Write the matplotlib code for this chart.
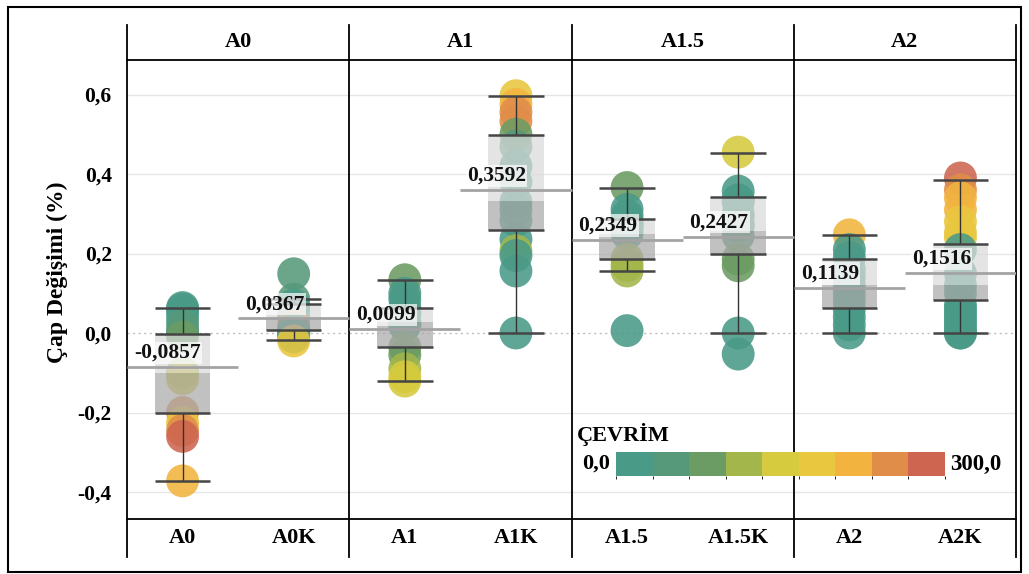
import numpy as np
import matplotlib
matplotlib.use("Agg")
import matplotlib.pyplot as plt
from matplotlib.colors import ListedColormap, BoundaryNorm
from matplotlib.cm import ScalarMappable
from matplotlib.patches import Rectangle
import matplotlib.transforms as mtransforms

plt.rcParams['font.family'] = ['Liberation Serif', 'DejaVu Serif']
plt.rcParams['font.weight'] = 'bold'

# ---- data -------------------------------------------------------------
groups = ['A0', 'A1', 'A1.5', 'A2']
categories = ['A0', 'A0K', 'A1', 'A1K', 'A1.5', 'A1.5K', 'A2', 'A2K']

# diameter change (%) per specimen and the cycle count it was measured at
a0_vals = [0.064, 0.06, 0.05, 0.035, 0.02, 0.005, 0.0, -0.01, -0.10, -0.115,
           -0.20, -0.225, -0.245, -0.26, -0.372]
a0_cyc = [0, 25, 0, 10, 50, 40, 60, 90, 110, 140, 250, 180, 240, 280, 200]

a0k_vals = [0.149, 0.085, 0.07, 0.06, 0.04, 0.02, 0.01, 0.0, 0.0, -0.01, -0.02]
a0k_cyc = [50, 40, 10, 0, 20, 250, 30, 0, 10, 5, 180]

a1_vals = [0.134, 0.10, 0.085, 0.064, 0.05, 0.05, 0.027, 0.02, 0.02, -0.036,
           -0.055, -0.09, -0.11, -0.121]
a1_cyc = [75, 25, 0, 0, 50, 25, 0, 50, 0, 75, 90, 110, 150, 140]

a1k_vals = [0.597, 0.575, 0.555, 0.533, 0.50, 0.47, 0.42, 0.38, 0.33, 0.31,
            0.283, 0.236, 0.207, 0.195, 0.156, 0.0]
a1k_cyc = [190, 200, 240, 250, 75, 40, 20, 10, 0, 25, 0, 20, 110, 0, 10, 0]

a15_vals = [0.366, 0.311, 0.295, 0.28, 0.27, 0.27, 0.26, 0.25, 0.186, 0.17,
            0.156, 0.006]
a15_cyc = [75, 25, 0, 10, 20, 0, 40, 30, 110, 120, 115, 0]

a15k_vals = [0.455, 0.357, 0.335, 0.33, 0.30, 0.29, 0.27, 0.27, 0.245, 0.186,
             0.169, 0.0, -0.053]
a15k_cyc = [150, 25, 0, 10, 20, 0, 30, 40, 60, 75, 80, 0, 10]

a2_vals = [0.247, 0.21, 0.19, 0.16, 0.14, 0.12, 0.10, 0.08, 0.06, 0.04, 0.02, 0.0]
a2_cyc = [200, 0, 10, 20, 0, 30, 10, 0, 20, 10, 0, 5]

a2k_vals = [0.39, 0.36, 0.34, 0.31, 0.28, 0.253, 0.24, 0.21, 0.15, 0.12, 0.10,
            0.07, 0.06, 0.05, 0.04, 0.03, 0.02, 0.01, 0.0, 0.0]
a2k_cyc = [290, 250, 230, 200, 190, 180, 170, 20, 10, 0, 30, 0, 10, 20, 0,
           5, 15, 0, 10, 0]

# box plot statistics per category
means = [-0.0857, 0.0367, 0.0099, 0.3592, 0.2349, 0.2427, 0.1139, 0.1516]
whisker_hi = [0.064, 0.085, 0.134, 0.597, 0.366, 0.452, 0.247, 0.386]
q3 = [-0.003, 0.073, 0.064, 0.499, 0.288, 0.343, 0.186, 0.223]
medians = [-0.10, 0.035, 0.027, 0.332, 0.25, 0.257, 0.12, 0.12]
q1 = [-0.2015, 0.008, -0.036, 0.258, 0.186, 0.198, 0.062, 0.084]
whisker_lo = [-0.372, -0.018, -0.121, 0.0, 0.156, 0.0, 0.0, 0.0]

yticks = [-0.4, -0.2, 0.0, 0.2, 0.4, 0.6]

all_vals = [a0_vals, a0k_vals, a1_vals, a1k_vals, a15_vals, a15k_vals, a2_vals, a2k_vals]
all_cyc = [a0_cyc, a0k_cyc, a1_cyc, a1k_cyc, a15_cyc, a15k_cyc, a2_cyc, a2k_cyc]

# stepped palette for ÇEVRİM (0 - 300)
palette = ['#4A9A88', '#56997A', '#6B9C63', '#A2B64B', '#D6CA3E',
           '#E9C73F', '#F2B43F', '#E08D4A', '#CD6550']
cmap = ListedColormap(palette)
norm = BoundaryNorm(np.linspace(0, 300, len(palette) + 1), len(palette))

# ---- figure -------------------------------------------------------------
W, H = 1029, 574
fig = plt.figure(figsize=(W / 100, H / 100), dpi=100)
L, R, T, B = 127, 1016, 60, 519
ax = fig.add_axes([L / W, 1 - B / H, (R - L) / W, (B - T) / H])

ax.set_xlim(0, len(categories))
ax.set_ylim(-0.4679, 0.6868)
xs = np.arange(len(categories)) + 0.5

# grid
for t in yticks:
    if t == 0:
        ax.axhline(t, color='#BDBDBD', lw=1.0, ls=(0, (1.5, 2.5)), zorder=1)
    else:
        ax.axhline(t, color='#E6E6E6', lw=1.0, zorder=1)

# points
for x, vals, cyc in zip(xs, all_vals, all_cyc):
    ax.scatter(np.full(len(vals), x), vals, s=560, c=cmap(norm(np.array(cyc))),
               alpha=0.88, edgecolors='none', zorder=2)

# boxes: upper (median-Q3) lighter, lower (Q1-median) darker
q3a, meda, q1a = np.array(q3), np.array(medians), np.array(q1)
ax.bar(xs, q3a - meda, bottom=meda, width=0.5, color='#DADADA', alpha=0.72,
       zorder=3, linewidth=0)
ax.bar(xs, meda - q1a, bottom=q1a, width=0.5, color='#A9A9A9', alpha=0.72,
       zorder=3, linewidth=0)

# whiskers and caps
ax.vlines(xs, q3, whisker_hi, color='#333333', lw=1.0, zorder=4)
ax.vlines(xs, whisker_lo, q1, color='#333333', lw=1.0, zorder=4)
for arr in (whisker_hi, q3, q1, whisker_lo):
    ax.hlines(arr, xs - 0.25, xs + 0.25, color='#454545', lw=1.8, zorder=5)

# average reference lines with labels
ax.hlines(means, xs - 0.5, xs + 0.5, color='#A3A3A3', lw=2.0, zorder=6)
for x, m in zip(xs, means):
    ax.annotate(f"{m:.4f}".replace('.', ','), xy=(x - 0.5, m),
                xytext=(5, 3), textcoords='offset points', ha='left', va='bottom',
                fontsize=15.5, fontweight='bold', color='#111111', zorder=7,
                bbox=dict(boxstyle='square,pad=0.05', fc='white', ec='none', alpha=0.7))

# axes styling
for side in ('left', 'right'):
    ax.spines[side].set_visible(False)
for side in ('top', 'bottom'):
    ax.spines[side].set_linewidth(1.3)
    ax.spines[side].set_color('black')
ax.set_yticks(yticks)
ax.set_yticklabels([f"{t:.1f}".replace('.', ',') for t in yticks])
ax.tick_params(axis='y', length=0, pad=11, labelsize=15.5)
ax.set_xticks([])

# pane separators extending through header and footer rows
top_ext = 1 + (T - 25) / (B - T)
bot_ext = -(557 - B) / (B - T)
for bx in range(0, len(categories) + 1, 2):
    ax.axvline(bx, ymin=bot_ext, ymax=top_ext, color='black', lw=1.3, clip_on=False)

trans = mtransforms.blended_transform_factory(ax.transData, ax.transAxes)
for i, g in enumerate(groups):
    ax.text(2 * i + 1, 1 + (T - 42) / (B - T), g, transform=trans, ha='center',
            va='center', fontsize=16, fontweight='bold')
for x, c in zip(xs, categories):
    ax.text(x, -(538 - B) / (B - T), c, transform=trans, ha='center',
            va='center', fontsize=16, fontweight='bold')

ax.text(-(L - 57) / (R - L), (B - 272) / (B - T), 'Çap Değişimi (%)',
        transform=ax.transAxes, rotation=90, ha='center', va='center',
        fontsize=17, fontweight='bold')

# colour legend
cax = fig.add_axes([616 / W, 1 - 476 / H, (945 - 616) / W, 24 / H])
cb = fig.colorbar(ScalarMappable(norm=norm, cmap=cmap), cax=cax,
                  orientation='horizontal')
cb.outline.set_visible(False)
cb.set_ticks([])
fig.text(577 / W, 1 - 435 / H, 'ÇEVRİM', ha='left', va='center',
         fontsize=16, fontweight='bold')
fig.text(610 / W, 1 - 464 / H, '0,0', ha='right', va='center',
         fontsize=16, fontweight='bold')
fig.text(950 / W, 1 - 464 / H, '300,0', ha='left', va='center',
         fontsize=16.5, fontweight='bold')

# outer frame
fig.add_artist(Rectangle((8 / W, 1 - 572 / H), 1013 / W, 565 / H,
                         transform=fig.transFigure, fill=False,
                         ec='black', lw=1.5))

fig.savefig('out.png', dpi=100)
